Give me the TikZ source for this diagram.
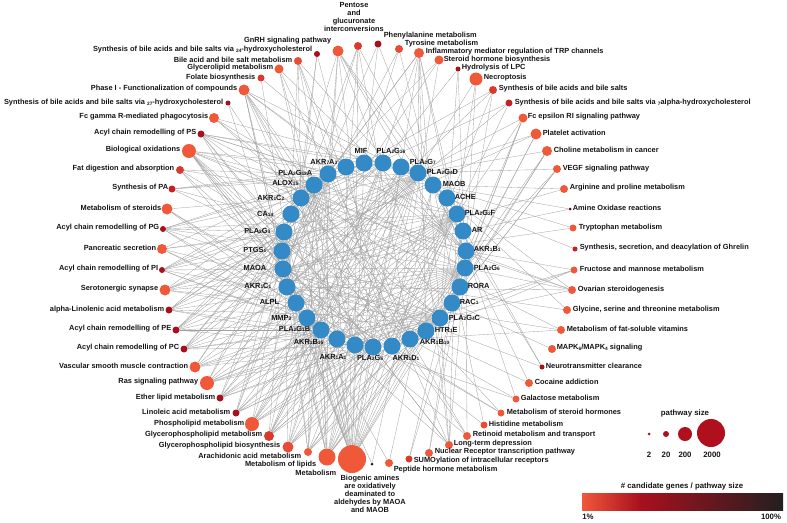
\documentclass[tikz,border=0pt]{standalone}
\usepackage{fontspec}
\setmainfont{Liberation Sans}
\usetikzlibrary{calc}
\definecolor{cOr}{HTML}{F0583A}
\definecolor{cOrb}{HTML}{E84B36}
\definecolor{cRd}{HTML}{D83A2E}
\definecolor{cRdb}{HTML}{C42026}
\definecolor{cDr}{HTML}{A8101E}
\definecolor{cVd}{HTML}{5A0C16}
\definecolor{cBl}{HTML}{3489C7}
\definecolor{cBk}{HTML}{231F20}
\definecolor{cEdge}{HTML}{A2A2A2}
\definecolor{cTxt}{HTML}{141414}
\definecolor{cLeg}{HTML}{B0101E}
\newcommand\snum[1]{\raisebox{-0.4pt}{\fontsize{4.8pt}{5pt}\selectfont #1}}
\newcommand\pwn[5]{\node[pw, minimum size=#4pt, fill=#5] (#1) at (#2,#3) {};}
\newcommand\lbE[4]{\node[lbl, anchor=east] (#1t) at (#2,#3) {#4};}
\newcommand\lbW[4]{\node[lbl, anchor=west] (#1t) at (#2,#3) {#4};}
\newcommand\gn[6]{\node[gene] (#1) at (#2,#3) {};\node[lbl, anchor=#4] (#1t) at (#5) {#6};}
\pgfdeclarelayer{edges}
\pgfsetlayers{edges,main}
\begin{document}
\begin{tikzpicture}[x=1pt,y=-1pt,
  pw/.style={circle, inner sep=0pt, draw=none},
  gene/.style={circle, inner sep=0pt, minimum size=17pt, fill=cBl, draw=none},
  lbl/.style={font=\bfseries\fontsize{7.4pt}{8pt}\selectfont, text=cTxt, inner sep=0.6pt},
  leg/.style={font=\bfseries\fontsize{7.8pt}{8pt}\selectfont, text=cTxt, inner sep=0.6pt},
  edge/.style={draw=cEdge, line width=0.32pt}]
\useasboundingbox (0,0) rectangle (787,522);
% ---------- gene nodes ----------
\gn{mif}{364}{163}{center}{361,151}{MIF}
\gn{g16}{383}{163}{center}{391,151}{PLA\snum{2}G\snum{16}}
\gn{g7}{401}{167}{west}{409,162}{PLA\snum{2}G\snum{7}}
\gn{g4d}{418}{173}{west}{426,172}{PLA\snum{2}G\snum{4}D}
\gn{maob}{433}{185}{west}{442,184}{MAOB}
\gn{ache}{447}{198}{west}{454,197}{ACHE}
\gn{g2f}{457}{214}{west}{464,213}{PLA\snum{2}G\snum{2}F}
\gn{ar}{463}{231}{west}{471,230}{AR}
\gn{b1}{466}{251}{west}{473,249}{AKR\snum{1}B\snum{1}}
\gn{g6}{465}{268}{west}{473,268}{PLA\snum{2}G\snum{6}}
\gn{rora}{460}{287}{west}{467,286}{RORA}
\gn{rac1}{452}{303}{west}{459,302}{RAC\snum{1}}
\gn{g4c}{440}{318}{west}{448,318}{PLA\snum{2}G\snum{4}C}
\gn{htr}{426}{331}{west}{434,330}{HTR\snum{1}E}
\gn{b10}{410}{339}{west}{419,342}{AKR\snum{1}B\snum{10}}
\gn{d1}{392}{346}{center}{406,358}{AKR\snum{1}D\snum{1}}
\gn{g5}{373}{347}{center}{370,358}{PLA\snum{2}G\snum{5}}
\gn{a1}{355}{345}{center}{333,357}{AKR\snum{1}A\snum{1}}
\gn{b15}{337}{339}{east}{324,342}{AKR\snum{1}B\snum{15}}
\gn{g1b}{321}{330}{east}{311,329}{PLA\snum{2}G\snum{1}B}
\gn{mmp2}{307}{318}{east}{292,318}{MMP\snum{2}}
\gn{alpl}{296}{303}{east}{280,302}{ALPL}
\gn{c1}{287}{287}{east}{272,286}{AKR\snum{1}C\snum{1}}
\gn{maoa}{283}{269}{east}{267,268}{MAOA}
\gn{ptgs1}{282}{251}{east}{267,250}{PTGS\snum{1}}
\gn{g3}{284}{232}{east}{271,231}{PLA\snum{2}G\snum{3}}
\gn{ca14}{291}{214}{east}{274,214}{CA\snum{14}}
\gn{c2}{301}{198}{east}{285,198}{AKR\snum{1}C\snum{2}}
\gn{alox}{314}{185}{east}{299,183}{ALOX\snum{15}}
\gn{g12a}{328}{174}{east}{313,173}{PLA\snum{2}G\snum{12}A}
\gn{a7}{346}{167}{east}{338,162}{AKR\snum{7}A\snum{3}}
% ---------- pathway nodes ----------
\pwn{pent}{358}{46}{8}{cRd}
\pwn{gnrh}{338}{51}{11}{cOr}
\pwn{phe}{378}{44}{7}{cDr}
\pwn{s24}{317}{54}{6}{cDr}
\pwn{bam}{298}{61}{8}{cOrb}
\pwn{glyl}{279}{69}{9}{cOr}
\pwn{fol}{261}{78}{7}{cRd}
\pwn{ph1}{244}{90}{11}{cOr}
\pwn{s27}{228}{103}{5}{cDr}
\pwn{fcg}{214}{118}{10}{cOr}
\pwn{tyr}{399}{49}{8}{cOrb}
\pwn{trpc}{419}{53}{10}{cOr}
\pwn{shb}{439}{60}{9}{cOr}
\pwn{lpc}{458}{69}{5}{cDr}
\pwn{necr}{476}{79}{13}{cOr}
\pwn{sba}{493}{90}{8}{cRd}
\pwn{s7a}{509}{103}{7}{cRdb}
\pwn{fce}{523}{118}{9}{cOr}
\pwn{ps}{201}{134}{7}{cDr}
\pwn{bio}{189}{151}{14}{cOr}
\pwn{fat}{180}{170}{8}{cRd}
\pwn{spa}{172}{189}{7}{cRdb}
\pwn{mst}{167}{209}{11}{cOr}
\pwn{pg}{163}{229}{6}{cDr}
\pwn{panc}{162}{249}{10}{cOr}
\pwn{pi}{162}{270}{6}{cDr}
\pwn{sero}{165}{290}{11}{cOr}
\pwn{aln}{169}{310}{7}{cDr}
\pwn{pe}{176}{330}{7}{cDr}
\pwn{pc}{184}{349}{7}{cDr}
\pwn{vsm}{195}{367}{11}{cOr}
\pwn{ras}{207}{383}{14}{cOr}
\pwn{eth}{220}{398}{7}{cDr}
\pwn{lin}{236}{413}{7}{cDr}
\pwn{phl}{252}{424}{14}{cOr}
\pwn{gpm}{269}{436}{10}{cRd}
\pwn{gpb}{288}{447}{11}{cOrb}
\pwn{ara}{308}{452}{8}{cOr}
\pwn{mlip}{327}{457}{17}{cOr}
\pwn{met}{352}{459}{28}{cOr}
\pwn{biog}{372}{464}{3}{cBk}
\pwn{pep}{389}{463}{8}{cOr}
\pwn{sumo}{409}{459}{7}{cRd}
\pwn{nuc}{429}{453}{8}{cOr}
\pwn{ltd}{449}{445}{8}{cOr}
\pwn{ret}{467}{436}{8}{cOr}
\pwn{his}{484}{425}{7}{cOrb}
\pwn{msh}{501}{413}{7}{cOr}
\pwn{gal}{516}{399}{7}{cOr}
\pwn{coc}{529}{383}{8}{cOr}
\pwn{plt}{536}{134}{11}{cOr}
\pwn{chol}{547}{151}{10}{cOr}
\pwn{vegf}{557}{169}{8}{cOr}
\pwn{arg}{564}{189}{8}{cOr}
\pwn{amox}{570}{209}{3}{cVd}
\pwn{tryp}{573}{228}{7}{cOr}
\pwn{ghr}{575}{249}{5}{cRdb}
\pwn{fru}{574}{270}{7}{cOr}
\pwn{ova}{572}{290}{8}{cOr}
\pwn{gly}{567}{310}{8}{cOr}
\pwn{fsv}{561}{330}{8}{cOr}
\pwn{mapk}{552}{349}{8}{cOr}
\pwn{neu}{542}{367}{5}{cDr}
% ---------- pathway labels ----------
\node[lbl, align=center, anchor=south] (pentt) at (354,32) {Pentose\\and\\glucuronate\\interconversions};
\lbE{gnrh}{332}{41}{GnRH signaling pathway}
\lbE{s24}{313}{50}{Synthesis of bile acids and bile salts via \snum{24}-hydroxycholesterol}
\lbE{bam}{293}{60}{Bile acid and bile salt metabolism}
\lbE{glyl}{274}{68}{Glycerolipid metabolism}
\lbE{fol}{256}{78}{Folate biosynthesis}
\lbE{ph1}{238}{89}{Phase I - Functionalization of compounds}
\lbE{s27}{224}{103}{Synthesis of bile acids and bile salts via \snum{27}-hydroxycholesterol}
\lbE{fcg}{209}{117}{Fc gamma R-mediated phagocytosis}
\lbE{ps}{197}{133}{Acyl chain remodelling of PS}
\lbE{bio}{181}{150}{Biological oxidations}
\lbE{fat}{175}{169}{Fat digestion and absorption}
\lbE{spa}{169}{188}{Synthesis of PA}
\lbE{mst}{162}{208}{Metabolism of steroids}
\lbE{pg}{160}{228}{Acyl chain remodelling of PG}
\lbE{panc}{157}{248}{Pancreatic secretion}
\lbE{pi}{159}{269}{Acyl chain remodelling of PI}
\lbE{sero}{159}{289}{Serotonergic synapse}
\lbE{aln}{165}{310}{alpha-Linolenic acid metabolism}
\lbE{pe}{172}{329}{Acyl chain remodelling of PE}
\lbE{pc}{180}{348}{Acyl chain remodelling of PC}
\lbE{vsm}{189}{366}{Vascular smooth muscle contraction}
\lbE{ras}{199}{382}{Ras signaling pathway}
\lbE{eth}{216}{398}{Ether lipid metabolism}
\lbE{lin}{231}{412}{Linoleic acid metabolism}
\lbE{phl}{245}{424}{Phospholipid metabolism}
\lbE{gpm}{263}{435}{Glycerophospholipid metabolism}
\lbE{gpb}{281}{446}{Glycerophospholipid biosynthesis}
\lbE{ara}{302}{456}{Arachidonic acid metabolism}
\lbE{mlip}{317}{465}{Metabolism of lipids}
\lbE{met}{337}{473}{Metabolism}
\node[lbl, align=center, anchor=north] (biogt) at (370,474) {Biogenic amines\\are oxidatively\\deaminated to\\aldehydes by MAOA\\and MAOB};
\lbW{phe}{383}{36}{Phenylalanine metabolism}
\lbW{tyr}{404}{44}{Tyrosine metabolism}
\lbW{trpc}{425}{52}{Inflammatory mediator regulation of TRP channels}
\lbW{shb}{443}{60}{Steroid hormone biosynthesis}
\lbW{lpc}{461}{68}{Hydrolysis of LPC}
\lbW{necr}{483}{78}{Necroptosis}
\lbW{sba}{498}{89}{Synthesis of bile acids and bile salts}
\lbW{s7a}{514}{103}{Synthesis of bile acids and bile salts via \snum{7}alpha-hydroxycholesterol}
\lbW{fce}{527}{117}{Fc epsilon RI signaling pathway}
\lbW{plt}{542}{133}{Platelet activation}
\lbW{chol}{553}{150}{Choline metabolism in cancer}
\lbW{vegf}{562}{169}{VEGF signaling pathway}
\lbW{arg}{569}{188}{Arginine and proline metabolism}
\lbW{amox}{572}{208}{Amine Oxidase reactions}
\lbW{tryp}{578}{228}{Tryptophan metabolism}
\lbW{ghr}{579}{248}{Synthesis, secretion, and deacylation of Ghrelin}
\lbW{fru}{579}{269}{Fructose and mannose metabolism}
\lbW{ova}{577}{290}{Ovarian steroidogenesis}
\lbW{gly}{572}{310}{Glycine, serine and threonine metabolism}
\lbW{fsv}{566}{329}{Metabolism of fat-soluble vitamins}
\lbW{mapk}{556}{348}{MAPK\snum{6}/MAPK\snum{4} signaling}
\lbW{neu}{545}{366}{Neurotransmitter clearance}
\lbW{coc}{534}{382}{Cocaine addiction}
\lbW{gal}{520}{398}{Galactose metabolism}
\lbW{msh}{506}{412}{Metabolism of steroid hormones}
\lbW{his}{488}{424}{Histidine metabolism}
\lbW{ret}{472}{435}{Retinoid metabolism and transport}
\lbW{ltd}{453}{444}{Long-term depression}
\lbW{nuc}{434}{452}{Nuclear Receptor transcription pathway}
\lbW{sumo}{413}{461}{SUMOylation of intracellular receptors}
\lbW{pep}{393}{470}{Peptide hormone metabolism}
% ---------- edges ----------
\begin{pgfonlayer}{edges}
\foreach \p/\gs in {
 pent/{b1,b10,a1,b15,c1,c2},
 gnrh/{g4c,g4d,g6,g2f,g1b,g3,g5,g12a},
 phe/{maoa,maob,mif},
 s24/{d1,c1,c2},
 bam/{d1,c1,c2,b1,b10,a1},
 glyl/{b1,b10,a1,b15},
 fol/{alpl,b1},
 ph1/{maoa,maob,a7,a1,b1,b10,c1,c2,ptgs1,alox,d1},
 s27/{d1,c1},
 fcg/{rac1,g4c,g4d,g6},
 tyr/{maoa,maob,mif},
 trpc/{g4c,g4d,g6,g3,g5,g1b,g2f,g12a,htr},
 shb/{d1,c1,c2},
 lpc/{g4c,g6,g16},
 necr/{g4c,g4d,g6},
 sba/{d1,c1,c2,b1},
 s7a/{d1,c1,c2},
 fce/{rac1,g4c,g4d,g6,g2f},
 ps/{g16,g12a,g3,g1b,g5,g2f,g4c,g6,g4d},
 bio/{maoa,maob,a7,b1,b10,a1,c1,c2,ptgs1,alox,d1,b15},
 fat/{g1b,g2f,g12a,g3,g5},
 spa/{g4c,g4d,g6,g16,g12a},
 mst/{d1,c1,c2,b15},
 pg/{g16,g12a,g3,g1b,g5,g2f,g4c,g6,g4d},
 panc/{g1b,g2f,g3,g5,g12a,g4c},
 pi/{g16,g12a,g3,g1b,g5,g2f,g4c,g6,g4d},
 sero/{maoa,maob,htr,ptgs1,alox,g4c,g4d,g6},
 aln/{g16,g12a,g3,g1b,g5,g2f,g4c,g6,g4d},
 pe/{g16,g12a,g3,g1b,g5,g2f,g4c,g6,g4d},
 pc/{g16,g12a,g3,g1b,g5,g2f,g4c,g6,g4d},
 vsm/{g4c,g4d,g6,g3,g5,g1b,g2f,g12a},
 ras/{rac1,g4c,g4d,g6,g3,g5,g1b,g2f,g12a},
 eth/{g4c,g4d,g6,g3,g5,g1b,g2f,g12a,g7},
 lin/{g4c,g4d,g6,g3,g5,g1b,g2f,g12a,alox},
 phl/{g4c,g4d,g6,g3,g5,g1b,g2f,g12a,g16,g7},
 gpm/{g4c,g4d,g6,g3,g5,g1b,g2f,g12a,g16,g7,ache},
 gpb/{g4c,g4d,g6,g3,g5,g1b,g2f,g12a,g16},
 ara/{g4c,g4d,g6,g3,g5,g1b,g2f,g12a,ptgs1,alox},
 mlip/{g4c,g4d,g6,g3,g5,g1b,g2f,g12a,g16,g7,ptgs1,alox,d1,c1,c2,rora},
 met/{maoa,maob,a7,b1,b10,a1,c1,c2,d1,b15,ptgs1,alox,g4c,g4d,g6,g3,g5,g1b,g2f,g12a,g16,g7,alpl,ca14,mif},
 biog/{maoa,maob},
 pep/{mmp2,ache},
 sumo/{ar,rora},
 nuc/{ar,rora},
 ltd/{g4c,g4d,g6,g3,g5,g1b,g2f,g12a},
 ret/{b10,c1,c2,b1},
 his/{maoa,maob},
 msh/{d1,c1,c2},
 gal/{b1,b10,b15},
 coc/{maoa,maob},
 plt/{g4c,g4d,g6,ptgs1},
 chol/{g4c,g4d,g6,rac1},
 vegf/{g4c,g4d,g6,rac1},
 arg/{maoa,maob},
 amox/{maoa,maob},
 tryp/{maoa,maob},
 ghr/{ache},
 fru/{b1,b10,b15,a1},
 ova/{b1,c1,c2,g4c,g4d,g6},
 gly/{maoa,maob},
 fsv/{b10,c1,c2},
 mapk/{rac1},
 neu/{maoa,maob,ache}}
 {\foreach \g in \gs {\draw[edge] (\p) -- (\g);}}
\end{pgfonlayer}
% ---------- legend ----------
\node[leg] (legsz) at (685,413) {pathway size};
\node[pw, minimum size=3pt, fill=cLeg] (lg1) at (649,434) {};
\node[pw, minimum size=6pt, fill=cLeg] (lg2) at (666,434) {};
\node[pw, minimum size=14pt, fill=cLeg] (lg3) at (685,434) {};
\node[pw, minimum size=28pt, fill=cLeg] (lg4) at (711,433) {};
\node[leg] (lgt1) at (649,455) {2};
\node[leg] (lgt2) at (666,455) {20};
\node[leg] (lgt3) at (685,455) {200};
\node[leg] (lgt4) at (712,455) {2000};
\node[leg] (cbt) at (682,486) {\# candidate genes / pathway size};
\shade[left color=cOr, right color=cDr] (582,493) rectangle (640.5,510);
\shade[left color=cDr, right color=cBk] (640,493) rectangle (783,510);
\node[leg] (cb1) at (588,517) {1\%};
\node[leg] (cb2) at (771,517) {100\%};
\end{tikzpicture}
\end{document}
